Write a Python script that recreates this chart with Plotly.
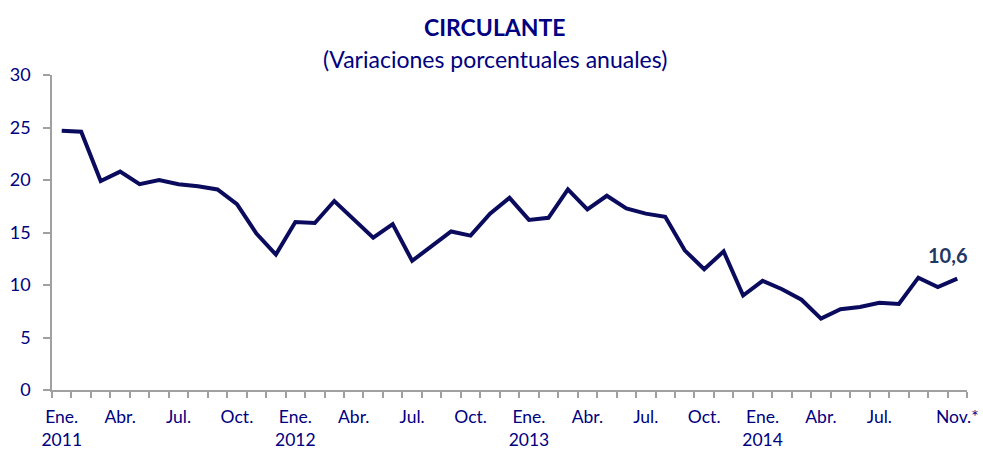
import plotly.graph_objects as go

months = ["Ene.", "Feb.", "Mar.", "Abr.", "May.", "Jun.", "Jul.", "Ago.", "Sep.", "Oct.", "Nov.", "Dic."]
years = [2011, 2012, 2013, 2014]
values = [24.7, 24.6, 19.9, 20.8, 19.6, 20.0, 19.6, 19.4, 19.1, 17.7, 14.9, 12.9,
          16.0, 15.9, 18.0, 16.3, 14.5, 15.8, 12.3, 13.7, 15.1, 14.7, 16.8, 18.3,
          16.2, 16.4, 19.1, 17.2, 18.5, 17.3, 16.8, 16.5, 13.3, 11.5, 13.2, 9.0,
          10.4, 9.6, 8.6, 6.8, 7.7, 7.9, 8.3, 8.2, 10.7, 9.8, 10.6]
tick_idx = [0, 3, 6, 9, 12, 15, 18, 21, 24, 27, 30, 33, 36, 39, 42, 46]
tick_text = ["Ene.<br>2011", "Abr.", "Jul.", "Oct.", "Ene.<br>2012", "Abr.", "Jul.", "Oct.",
             "Ene.<br>2013", "Abr.", "Jul.", "Oct.", "Ene.<br>2014", "Abr.", "Jul.", "Nov.*"]
last_label = "10,6"
title = "CIRCULANTE"
subtitle = "(Variaciones porcentuales anuales)"

x = list(range(len(values)))
navy = "#000080"
line_col = "#0b0b5e"
axis_col = "#a0a0a0"
font = "Lato"

fig = go.Figure()
fig.add_trace(go.Scatter(x=x, y=values, mode="lines",
                         line=dict(color=line_col, width=4), hoverinfo="skip"))

fig.add_annotation(x=x[-1], y=values[-1], text="<b>" + last_label + "</b>", showarrow=False,
                   xshift=-10, yshift=24, font=dict(family=font, size=20, color="#1f3864"))
fig.add_annotation(xref="paper", yref="paper", x=0.484, y=1, yanchor="bottom", yshift=32,
                   text="<b>" + title + "</b>", showarrow=False,
                   font=dict(family=font, size=23, color=navy))
fig.add_annotation(xref="paper", yref="paper", x=0.484, y=1, yanchor="bottom", yshift=0,
                   text=subtitle, showarrow=False,
                   font=dict(family=font, size=23, color=navy))

fig.update_layout(
    width=983, height=449,
    margin=dict(l=52, r=16, t=75, b=59),
    paper_bgcolor="white", plot_bgcolor="white",
    showlegend=False,
    font=dict(family=font, size=18, color=navy),
    xaxis=dict(range=[-0.5, len(values) - 0.5], tickmode="array", tickvals=tick_idx,
               ticktext=tick_text, ticks="", showgrid=False, zeroline=False,
               showline=True, linecolor=axis_col, linewidth=1.5, automargin=False,
               ticklabelstandoff=10, tickfont=dict(size=17.5),
               minor=dict(tickmode="linear", tick0=-0.5, dtick=1, ticks="outside",
                          ticklen=6, tickcolor=axis_col, tickwidth=1.5, showgrid=False)),
    yaxis=dict(range=[0, 30], tickmode="linear", tick0=0, dtick=5, ticks="outside",
               ticklen=7, tickcolor=axis_col, tickwidth=1.5, showgrid=False,
               zeroline=False, showline=True, linecolor=axis_col, linewidth=1.5,
               automargin=False, ticklabelstandoff=9),
)

# remove the default 8px page margin so the figure fills the window exactly
fig.write_html("out.html", config={"displayModeBar": False},
               post_script="document.body.style.margin='0';document.body.style.overflow='hidden';")
